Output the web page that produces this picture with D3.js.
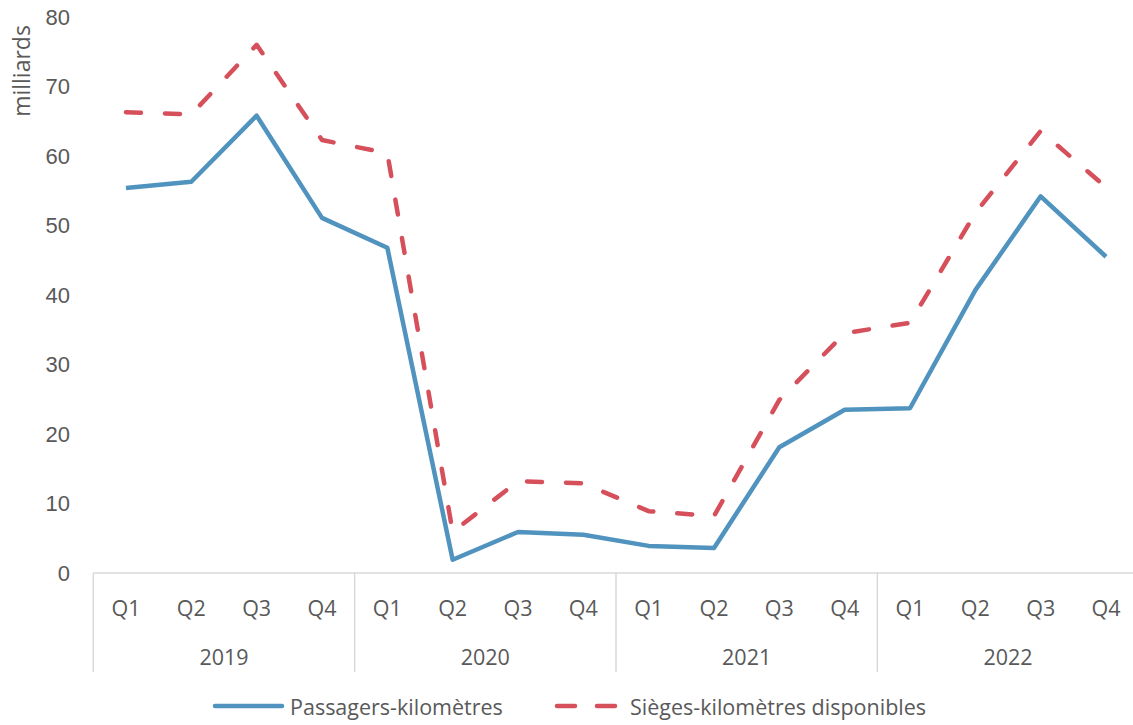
<!DOCTYPE html>
<html>
<head>
<meta charset="utf-8">
<script src="https://cdn.jsdelivr.net/npm/d3@7"></script>
<style>
  body { margin: 0; background: #fff; }
  svg { display: block; font-family: "Open Sans", "Noto Sans", sans-serif; }
</style>
</head>
<body>
<svg id="chart" width="1133" height="725"></svg>
<script>
const years = ["2019", "2020", "2021", "2022"];
const quarters = ["Q1", "Q2", "Q3", "Q4"];
const passagers = [55.4, 56.3, 65.8, 51.1, 46.8, 1.9, 5.9, 5.5, 3.9, 3.6, 18.1, 23.5, 23.7, 40.7, 54.2, 45.5];
const sieges = [66.3, 66.0, 76.0, 62.3, 60.4, 5.9, 13.2, 12.9, 8.9, 8.2, 24.9, 34.5, 36.0, 51.8, 63.6, 55.5];
const yTicks = [0, 10, 20, 30, 40, 50, 60, 70, 80];

const plotLeft = 93.3, plotRight = 1138.7, plotTop = 17, plotBottom = 573;
const textColor = "#595959";
const blue = "#5093BE", red = "#D6505C";
const fs = "21.5px";

const svg = d3.select("#chart");

const idx = d3.range(years.length * quarters.length);
const x = d3.scaleBand().domain(idx).range([plotLeft, plotRight]).padding(0);
const y = d3.scaleLinear().domain([0, 80]).range([plotBottom, plotTop]);
const cx = i => x(i) + x.bandwidth() / 2;

// y axis, labels only
const yAxis = d3.axisLeft(y).tickValues(yTicks).tickSize(0).tickPadding(0);
const gy = svg.append("g").attr("transform", "translate(70,0)").call(yAxis);
gy.select(".domain").remove();
gy.selectAll("text").attr("fill", textColor).style("font-size", "22px").style("font-family", "inherit");

svg.append("text")
  .attr("transform", "translate(21,71) rotate(-90)")
  .attr("text-anchor", "middle")
  .attr("dominant-baseline", "central")
  .attr("fill", textColor)
  .style("font-size", "23px")
  .text("milliards");

// x axis: baseline, quarter labels, year groups
svg.append("line")
  .attr("x1", plotLeft).attr("x2", plotRight)
  .attr("y1", plotBottom).attr("y2", plotBottom)
  .attr("stroke", "#d9d9d9").attr("stroke-width", 1.5);

const groupW = x.bandwidth() * quarters.length;
d3.range(years.length + 1).forEach(g => {
  const gx = plotLeft + g * groupW;
  svg.append("line")
    .attr("x1", gx).attr("x2", gx)
    .attr("y1", plotBottom).attr("y2", 672)
    .attr("stroke", "#d9d9d9").attr("stroke-width", 1.5);
});

svg.append("g").selectAll("text")
  .data(idx)
  .join("text")
    .attr("x", cx)
    .attr("y", 607)
    .attr("text-anchor", "middle")
    .attr("dominant-baseline", "central")
    .attr("fill", textColor)
    .style("font-size", fs)
    .text(i => quarters[i % quarters.length]);

svg.append("g").selectAll("text")
  .data(years)
  .join("text")
    .attr("x", (d, g) => plotLeft + (g + 0.5) * groupW)
    .attr("y", 656)
    .attr("text-anchor", "middle")
    .attr("dominant-baseline", "central")
    .attr("fill", textColor)
    .style("font-size", fs)
    .text(d => d);

// lines
const line = d3.line().x((d, i) => cx(i)).y(d => y(d));

svg.append("path")
  .datum(sieges)
  .attr("d", line)
  .attr("fill", "none")
  .attr("stroke", red)
  .attr("stroke-width", 4.5)
  .attr("stroke-linecap", "round")
  .attr("stroke-linejoin", "round")
  .attr("stroke-dasharray", "15,24");

svg.append("path")
  .datum(passagers)
  .attr("d", line)
  .attr("fill", "none")
  .attr("stroke", blue)
  .attr("stroke-width", 4.5)
  .attr("stroke-linejoin", "round");

// legend
const legend = svg.append("g");
legend.append("line")
  .attr("x1", 215).attr("x2", 282).attr("y1", 706).attr("y2", 706)
  .attr("stroke", blue).attr("stroke-width", 4.5).attr("stroke-linecap", "round");
legend.append("text")
  .attr("x", 290).attr("y", 706)
  .attr("dominant-baseline", "central")
  .attr("fill", textColor)
  .style("font-size", fs)
  .text("Passagers-kilomètres");
legend.append("line")
  .attr("x1", 557).attr("x2", 615).attr("y1", 706).attr("y2", 706)
  .attr("stroke", red).attr("stroke-width", 4.5).attr("stroke-linecap", "round")
  .attr("stroke-dasharray", "18,22");
legend.append("text")
  .attr("x", 630).attr("y", 706)
  .attr("dominant-baseline", "central")
  .attr("fill", textColor)
  .style("font-size", fs)
  .text("Sièges-kilomètres disponibles");
</script>
</body>
</html>
